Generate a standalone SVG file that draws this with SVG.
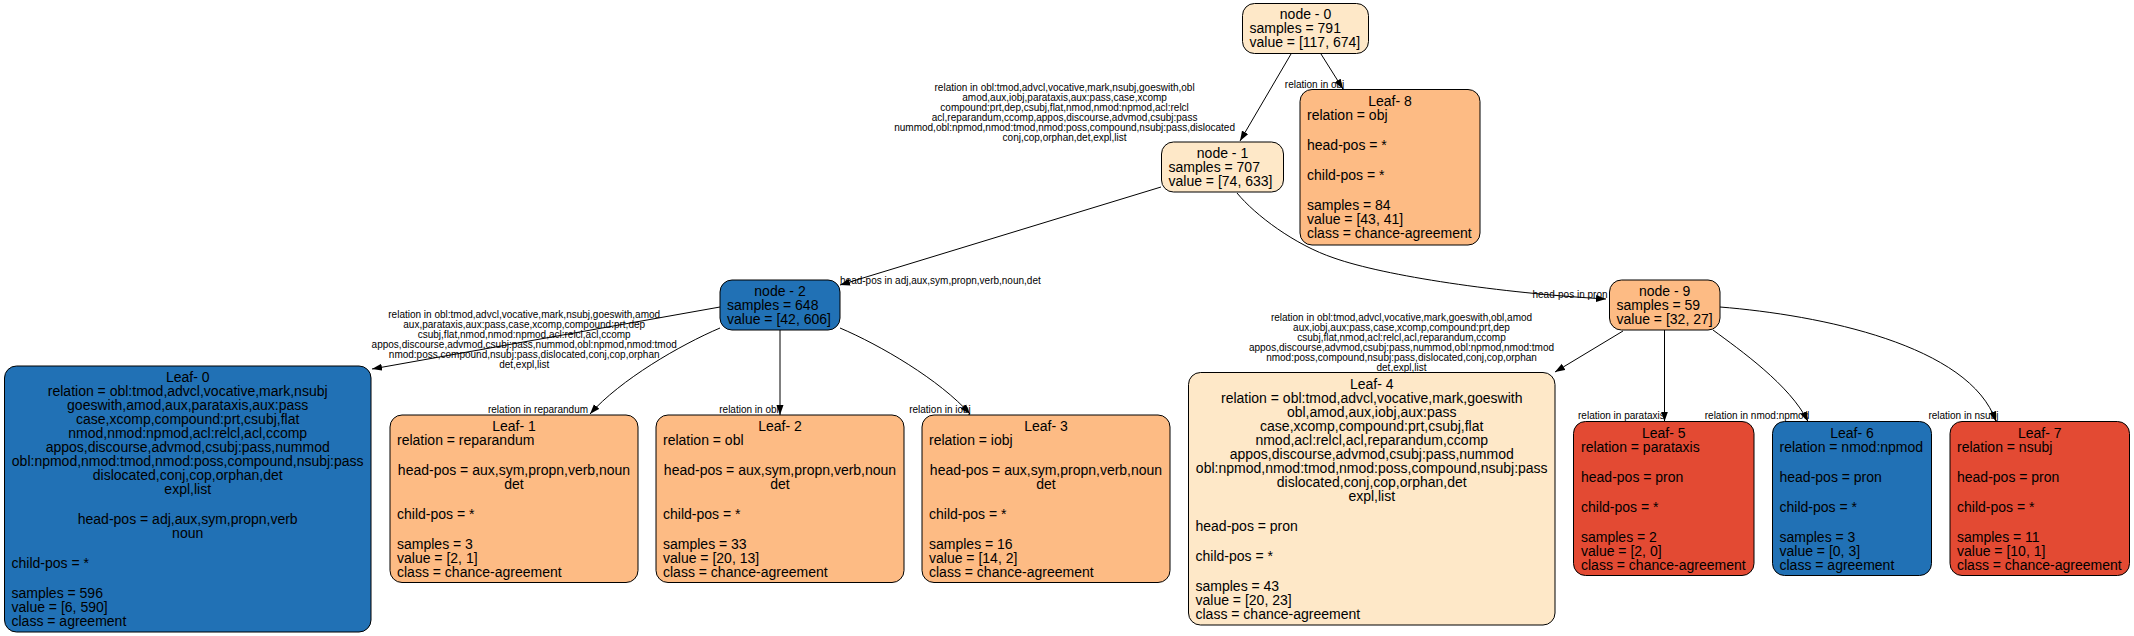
<svg xmlns="http://www.w3.org/2000/svg" width="2134" height="636" viewBox="0 0 2134 636">
<style>
text{font-family:"Liberation Sans",Arial,Helvetica,sans-serif;font-size:14px;fill:#000}
.c{text-anchor:middle}
.el{font-size:10px;text-anchor:middle}
.box{stroke:#000;stroke-width:1}
.pe{fill:#fee8c8}.or{fill:#fdbb84}.bl{fill:#2171b5}.rd{fill:#e34a33}
.edges path{fill:none;stroke:#000;stroke-width:1;marker-end:url(#arr)}
</style>
<defs>
<marker id="arr" markerUnits="userSpaceOnUse" markerWidth="10" markerHeight="8" refX="10" refY="3.5" orient="auto" viewBox="0 0 10 7">
<path d="M0,0 L10,3.5 L0,7 z" fill="#000"/>
</marker>
</defs>
<rect width="2134" height="636" fill="#fff"/>
<g class="edges" id="connectors">
<path d="M1291,54 L1240,141"/>
<path d="M1321,54 L1343,89"/>
<path d="M1161,187 L840,285"/>
<path d="M1237,193 C1255,215 1295,245 1334,258 C1385,276 1500,293 1606,299"/>
<path d="M720,307 L372,369"/>
<path d="M720,328 C680,345 620,380 590,414"/>
<path d="M780,330 L780,415"/>
<path d="M840,328 C880,345 940,380 970,414"/>
<path d="M1623,331 L1555,372"/>
<path d="M1664.5,330 L1664.5,421.5"/>
<path d="M1713,330 C1740,350 1790,385 1808,421.5"/>
<path d="M1720,307 C1820,315 1970,345 1996,421.5"/>
</g>
<g id="edge-labels">
<text class="el"><tspan x="1064.6" y="90.5">relation in obl:tmod,advcl,vocative,mark,nsubj,goeswith,obl</tspan><tspan x="1064.6" y="100.5">amod,aux,iobj,parataxis,aux:pass,case,xcomp</tspan><tspan x="1064.6" y="110.5">compound:prt,dep,csubj,flat,nmod,nmod:npmod,acl:relcl</tspan><tspan x="1064.6" y="120.5">acl,reparandum,ccomp,appos,discourse,advmod,csubj:pass</tspan><tspan x="1064.6" y="130.5">nummod,obl:npmod,nmod:tmod,nmod:poss,compound,nsubj:pass,dislocated</tspan><tspan x="1064.6" y="140.5">conj,cop,orphan,det,expl,list</tspan></text>
<text class="el" x="1314.6" y="87.8">relation in obj</text>
<text class="el" x="940.4" y="284.2">head-pos in adj,aux,sym,propn,verb,noun,det</text>
<text class="el" x="1570" y="298.2">head-pos in pron</text>
<text class="el"><tspan x="524.2" y="317.8">relation in obl:tmod,advcl,vocative,mark,nsubj,goeswith,amod</tspan><tspan x="524.2" y="327.8">aux,parataxis,aux:pass,case,xcomp,compound:prt,dep</tspan><tspan x="524.2" y="337.8">csubj,flat,nmod,nmod:npmod,acl:relcl,acl,ccomp</tspan><tspan x="524.2" y="347.8">appos,discourse,advmod,csubj:pass,nummod,obl:npmod,nmod:tmod</tspan><tspan x="524.2" y="357.8">nmod:poss,compound,nsubj:pass,dislocated,conj,cop,orphan</tspan><tspan x="524.2" y="367.8">det,expl,list</tspan></text>
<text class="el" x="538" y="412.8">relation in reparandum</text>
<text class="el" x="749" y="412.8">relation in obl</text>
<text class="el" x="940" y="412.8">relation in iobj</text>
<text class="el"><tspan x="1401.5" y="320.8">relation in obl:tmod,advcl,vocative,mark,goeswith,obl,amod</tspan><tspan x="1401.5" y="330.8">aux,iobj,aux:pass,case,xcomp,compound:prt,dep</tspan><tspan x="1401.5" y="340.8">csubj,flat,nmod,acl:relcl,acl,reparandum,ccomp</tspan><tspan x="1401.5" y="350.8">appos,discourse,advmod,csubj:pass,nummod,obl:npmod,nmod:tmod</tspan><tspan x="1401.5" y="360.8">nmod:poss,compound,nsubj:pass,dislocated,conj,cop,orphan</tspan><tspan x="1401.5" y="370.8">det,expl,list</tspan></text>
<text class="el" x="1621.4" y="419.3">relation in parataxis</text>
<text class="el" x="1757" y="419.3">relation in nmod:npmod</text>
<text class="el" x="1963.4" y="419.3">relation in nsubj</text>
</g>
<g id="node0">
<rect class="box pe" x="1242.5" y="3.5" width="126" height="50" rx="12"/>
<text class="c" x="1305.5" y="19.3">node - 0</text>
<text x="1249.5" y="33.3">samples = 791</text>
<text x="1249.5" y="47.3">value = [117, 674]</text>
</g>
<g id="node1">
<rect class="box pe" x="1161.5" y="142" width="122" height="50" rx="12"/>
<text class="c" x="1222.5" y="158">node - 1</text>
<text x="1168.5" y="172">samples = 707</text>
<text x="1168.5" y="186">value = [74, 633]</text>
</g>
<g id="leaf8">
<rect class="box or" x="1300" y="89.5" width="180" height="155.5" rx="12"/>
<text class="c" x="1390" y="105.5">Leaf- 8</text>
<text x="1307" y="119.5">relation = obj</text>
<text x="1307" y="149.5">head-pos = *</text>
<text x="1307" y="179.5">child-pos = *</text>
<text x="1307" y="209.5">samples = 84</text>
<text x="1307" y="223.5">value = [43, 41]</text>
<text x="1307" y="237.5">class = chance-agreement</text>
</g>
<g id="node2">
<rect class="box bl" x="720" y="280" width="120" height="50" rx="12"/>
<text class="c" x="780" y="296">node - 2</text>
<text x="727" y="310">samples = 648</text>
<text x="727" y="324">value = [42, 606]</text>
</g>
<g id="node9">
<rect class="box or" x="1609.5" y="280" width="110.5" height="50" rx="12"/>
<text class="c" x="1664.7" y="296">node - 9</text>
<text x="1616.5" y="310">samples = 59</text>
<text x="1616.5" y="324">value = [32, 27]</text>
</g>
<g id="leaf0">
<rect class="box bl" x="4.5" y="366" width="366.5" height="266" rx="12"/>
<text class="c" x="187.7" y="382">Leaf- 0</text>
<text class="c" x="187.7" y="396">relation = obl:tmod,advcl,vocative,mark,nsubj</text>
<text class="c" x="187.7" y="410">goeswith,amod,aux,parataxis,aux:pass</text>
<text class="c" x="187.7" y="424">case,xcomp,compound:prt,csubj,flat</text>
<text class="c" x="187.7" y="438">nmod,nmod:npmod,acl:relcl,acl,ccomp</text>
<text class="c" x="187.7" y="452">appos,discourse,advmod,csubj:pass,nummod</text>
<text class="c" x="187.7" y="466">obl:npmod,nmod:tmod,nmod:poss,compound,nsubj:pass</text>
<text class="c" x="187.7" y="480">dislocated,conj,cop,orphan,det</text>
<text class="c" x="187.7" y="494">expl,list</text>
<text class="c" x="187.7" y="524">head-pos = adj,aux,sym,propn,verb</text>
<text class="c" x="187.7" y="538">noun</text>
<text x="11.5" y="568">child-pos = *</text>
<text x="11.5" y="598">samples = 596</text>
<text x="11.5" y="612">value = [6, 590]</text>
<text x="11.5" y="626">class = agreement</text>
</g>
<g id="leaf1">
<rect class="box or" x="390" y="415" width="248" height="167.5" rx="12"/>
<text class="c" x="514" y="431">Leaf- 1</text>
<text x="397" y="445">relation = reparandum</text>
<text class="c" x="514" y="475">head-pos = aux,sym,propn,verb,noun</text>
<text class="c" x="514" y="489">det</text>
<text x="397" y="519">child-pos = *</text>
<text x="397" y="549">samples = 3</text>
<text x="397" y="563">value = [2, 1]</text>
<text x="397" y="577">class = chance-agreement</text>
</g>
<g id="leaf2">
<rect class="box or" x="656" y="415" width="248" height="167.5" rx="12"/>
<text class="c" x="780" y="431">Leaf- 2</text>
<text x="663" y="445">relation = obl</text>
<text class="c" x="780" y="475">head-pos = aux,sym,propn,verb,noun</text>
<text class="c" x="780" y="489">det</text>
<text x="663" y="519">child-pos = *</text>
<text x="663" y="549">samples = 33</text>
<text x="663" y="563">value = [20, 13]</text>
<text x="663" y="577">class = chance-agreement</text>
</g>
<g id="leaf3">
<rect class="box or" x="922" y="415" width="248" height="167.5" rx="12"/>
<text class="c" x="1046" y="431">Leaf- 3</text>
<text x="929" y="445">relation = iobj</text>
<text class="c" x="1046" y="475">head-pos = aux,sym,propn,verb,noun</text>
<text class="c" x="1046" y="489">det</text>
<text x="929" y="519">child-pos = *</text>
<text x="929" y="549">samples = 16</text>
<text x="929" y="563">value = [14, 2]</text>
<text x="929" y="577">class = chance-agreement</text>
</g>
<g id="leaf4">
<rect class="box pe" x="1188.5" y="372.5" width="366.5" height="252.5" rx="12"/>
<text class="c" x="1371.75" y="388.5">Leaf- 4</text>
<text class="c" x="1371.75" y="402.5">relation = obl:tmod,advcl,vocative,mark,goeswith</text>
<text class="c" x="1371.75" y="416.5">obl,amod,aux,iobj,aux:pass</text>
<text class="c" x="1371.75" y="430.5">case,xcomp,compound:prt,csubj,flat</text>
<text class="c" x="1371.75" y="444.5">nmod,acl:relcl,acl,reparandum,ccomp</text>
<text class="c" x="1371.75" y="458.5">appos,discourse,advmod,csubj:pass,nummod</text>
<text class="c" x="1371.75" y="472.5">obl:npmod,nmod:tmod,nmod:poss,compound,nsubj:pass</text>
<text class="c" x="1371.75" y="486.5">dislocated,conj,cop,orphan,det</text>
<text class="c" x="1371.75" y="500.5">expl,list</text>
<text x="1195.5" y="530.5">head-pos = pron</text>
<text x="1195.5" y="560.5">child-pos = *</text>
<text x="1195.5" y="590.5">samples = 43</text>
<text x="1195.5" y="604.5">value = [20, 23]</text>
<text x="1195.5" y="618.5">class = chance-agreement</text>
</g>
<g id="leaf5">
<rect class="box rd" x="1573.5" y="421.5" width="180.5" height="154" rx="12"/>
<text class="c" x="1663.75" y="437.5">Leaf- 5</text>
<text x="1581" y="451.5">relation = parataxis</text>
<text x="1581" y="481.5">head-pos = pron</text>
<text x="1581" y="511.5">child-pos = *</text>
<text x="1581" y="541.5">samples = 2</text>
<text x="1581" y="555.5">value = [2, 0]</text>
<text x="1581" y="569.5">class = chance-agreement</text>
</g>
<g id="leaf6">
<rect class="box bl" x="1772.5" y="421.5" width="159" height="154" rx="12"/>
<text class="c" x="1852" y="437.5">Leaf- 6</text>
<text x="1779.5" y="451.5">relation = nmod:npmod</text>
<text x="1779.5" y="481.5">head-pos = pron</text>
<text x="1779.5" y="511.5">child-pos = *</text>
<text x="1779.5" y="541.5">samples = 3</text>
<text x="1779.5" y="555.5">value = [0, 3]</text>
<text x="1779.5" y="569.5">class = agreement</text>
</g>
<g id="leaf7">
<rect class="box rd" x="1950" y="421.5" width="179.5" height="154" rx="12"/>
<text class="c" x="2039.75" y="437.5">Leaf- 7</text>
<text x="1957" y="451.5">relation = nsubj</text>
<text x="1957" y="481.5">head-pos = pron</text>
<text x="1957" y="511.5">child-pos = *</text>
<text x="1957" y="541.5">samples = 11</text>
<text x="1957" y="555.5">value = [10, 1]</text>
<text x="1957" y="569.5">class = chance-agreement</text>
</g>
</svg>
